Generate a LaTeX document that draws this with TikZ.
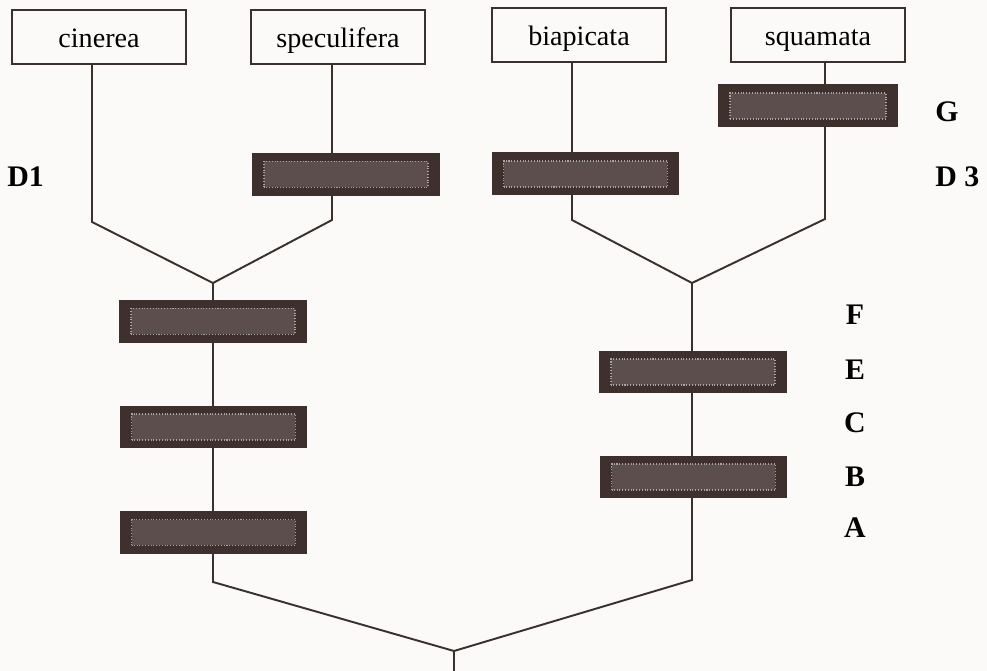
\documentclass[tikz,border=0pt]{standalone}
\usepackage{fontspec}
\setmainfont{Liberation Serif}
\definecolor{ink}{RGB}{58,48,45}
\definecolor{barout}{RGB}{62,48,44}
\definecolor{barin}{RGB}{92,78,77}
\definecolor{paper}{RGB}{251,250,248}
\tikzset{
  taxon/.style={draw=ink, line width=1.2pt, minimum width=3.48cm, minimum height=1.08cm,
    inner sep=0pt, text height=1.3em, text depth=0.16em, font=\fontsize{16}{18}\selectfont},
  trait/.style={fill=barout, minimum width=3.76cm, minimum height=0.86cm, inner sep=0pt,
    path picture={
      \fill[barin] ([shift={(0.24cm,0.17cm)}]path picture bounding box.south west)
        rectangle ([shift={(-0.24cm,-0.17cm)}]path picture bounding box.north east);
      \draw[gray!70, densely dotted, line width=0.6pt] ([shift={(0.24cm,0.17cm)}]path picture bounding box.south west)
        rectangle ([shift={(-0.24cm,-0.17cm)}]path picture bounding box.north east);
    }},
  charlabel/.style={font=\bfseries\fontsize{17}{20}\selectfont, inner sep=0pt},
  branch/.style={draw=ink, line width=1.1pt}
}
\begin{document}
\begin{tikzpicture}[x=0.02cm, y=-0.02cm]
    \fill[paper] (0,0) rectangle (987,671);
    \useasboundingbox (0,0) rectangle (987,671);

    % Taxa
    \node[taxon] (cin) at (99,37) {cinerea};
    \node[taxon] (spe) at (338,37) {speculifera};
    \node[taxon] (bia) at (579,35) {biapicata};
    \node[taxon] (squ) at (818,35) {squamata};

    % Knicke und Knoten
    \coordinate (k1) at (92,222);
    \coordinate (k2) at (332,220);
    \coordinate (k3) at (572,220);
    \coordinate (k4) at (825,219);
    \coordinate (n12) at (213,283);
    \coordinate (n34) at (692,283);
    \coordinate (l0) at (213,582);
    \coordinate (r0) at (692,580);
    \coordinate (root) at (454,651);
    \coordinate (base) at (454,671);

    % Zweige
    \draw[branch] (cin.south -| k1) -- (k1) -- (n12);
    \draw[branch] (spe.south -| k2) -- (k2) -- (n12);
    \draw[branch] (bia.south -| k3) -- (k3) -- (n34);
    \draw[branch] (squ.south -| k4) -- (k4) -- (n34);
    \draw[branch] (n12) -- (l0) -- (root);
    \draw[branch] (n34) -- (r0) -- (root);
    \draw[branch] (root) -- (base);

    % Merkmale
    \node[trait] (bD1) at (346,174.5) {};
    \node[trait] (bD3) at (585.5,174) {};
    \node[trait, minimum width=3.6cm] (bG) at (808,106) {};
    \node[trait] (bF) at (213,321.5) {};
    \node[trait] (bC) at (213.5,427) {};
    \node[trait] (bA) at (213.5,532.5) {};
    \node[trait] (bE) at (693,372) {};
    \node[trait] (bB) at (693.5,477) {};

    % Beschriftung
    \node[charlabel, anchor=west] (lD1) at (7,177) {D1};
    \node[charlabel, anchor=west] (lG) at (935,112) {G};
    \node[charlabel, anchor=west] (lD3) at (935,177) {D 3};
    \node[charlabel] (lF) at (855,315) {F};
    \node[charlabel] (lE) at (855,370) {E};
    \node[charlabel] (lC) at (855,423) {C};
    \node[charlabel] (lB) at (855,477) {B};
    \node[charlabel] (lA) at (855,528) {A};
\end{tikzpicture}
\end{document}
